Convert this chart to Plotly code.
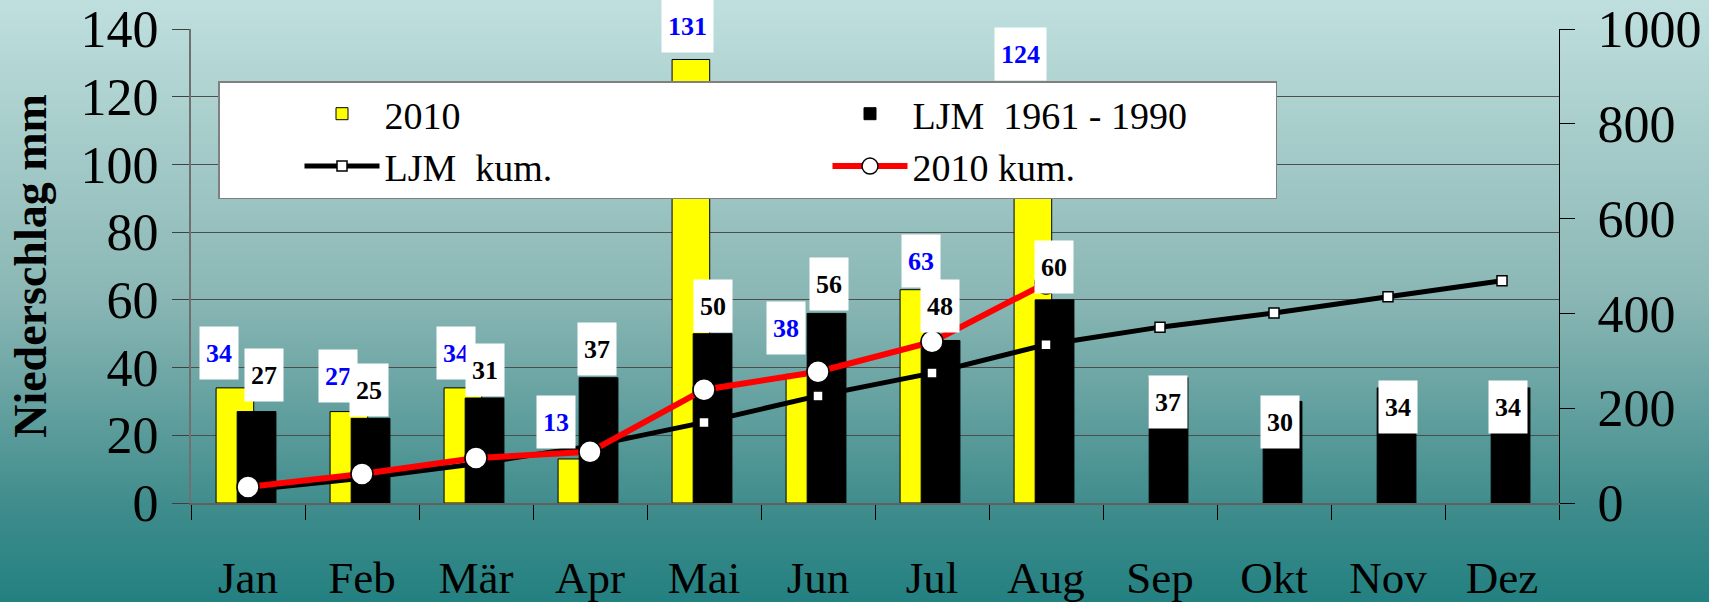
import base64
import struct
import zlib
import plotly.graph_objects as go

# ---------------- data ----------------
months = ["Jan", "Feb", "Mär", "Apr", "Mai", "Jun", "Jul", "Aug", "Sep", "Okt", "Nov", "Dez"]
rain_2010 = [34, 27, 34, 13, 131, 38, 63, 124]
rain_ljm = [27, 25, 31, 37, 50, 56, 48, 60, 37, 30, 34, 34]
cum_ljm = [27, 52, 83, 120, 170, 226, 274, 334, 371, 401, 435, 469]
cum_2010 = [34, 61, 95, 108, 239, 277, 340, 464]
left_ticks = [0, 20, 40, 60, 80, 100, 120, 140]
right_ticks = [0, 200, 400, 600, 800, 1000]

# label offsets in pixels (styling)
lab2010_dx = [-29, -24, -20, -34, -17, -32, -11, -26]
lab2010_dy = [35, 36, 35, 37, 33, 46, 29, 29]
labljm_dx = [16, 7, 9, 7, 9, 11, 8, 8, 8, 6, 10, 6]
labljm_dy = [37, 28, 28, 29, 28, 29, 34, 33, -24, -21, -19, -19]

FONT = "Liberation Serif"
W, H = 1709, 602
L, R, T, B = 191, 150, 29, 99
PW, PH = W - L - R, H - T - B


def gradient_png(stops, height, width=16):
    rows = []
    for yy in range(height):
        t = yy / (height - 1)
        c = stops[-1][1]
        for (t0, c0), (t1, c1) in zip(stops, stops[1:]):
            if t0 <= t <= t1:
                f = (t - t0) / (t1 - t0)
                c = [round(a + (b - a) * f) for a, b in zip(c0, c1)]
                break
        rows.append(b"\x00" + bytes(c) * width)
    raw = b"".join(rows)

    def chunk(tag, data):
        return (struct.pack(">I", len(data)) + tag + data
                + struct.pack(">I", zlib.crc32(tag + data) & 0xFFFFFFFF))

    png = (b"\x89PNG\r\n\x1a\n"
           + chunk(b"IHDR", struct.pack(">IIBBBBB", width, height, 8, 2, 0, 0, 0))
           + chunk(b"IDAT", zlib.compress(raw))
           + chunk(b"IEND", b""))
    return "data:image/png;base64," + base64.b64encode(png).decode()


EXT = 12  # extend gradient image beyond the page edges
bg_uri = gradient_png([(0.0, (193, 225, 223)), (0.5, (137, 182, 180)),
                       (0.83, (63, 140, 140)), (1.0, (32, 127, 127))], H + 2 * EXT)

fig = go.Figure()
fig.add_trace(go.Bar(
    x=months[:len(rain_2010)], y=rain_2010, name="2010",
    width=0.33, offset=-0.28,
    marker=dict(color="#FFFF00", line=dict(color="black", width=1)),
))
fig.add_trace(go.Bar(
    x=months, y=rain_ljm, name="LJM\u00a0 1961 - 1990",
    width=0.34, offset=-0.095,
    marker=dict(color="black", line=dict(color="black", width=1)),
))
fig.add_trace(go.Scatter(
    x=months, y=cum_ljm, name="LJM\u00a0 kum.", yaxis="y2", mode="lines+markers",
    line=dict(color="black", width=5),
    marker=dict(symbol="square", size=10, color="white", line=dict(color="black", width=1.5)),
))
fig.add_trace(go.Scatter(
    x=months[:len(cum_2010)], y=cum_2010, name="2010 kum.", yaxis="y2", mode="lines+markers",
    line=dict(color="#FF0000", width=6),
    marker=dict(symbol="circle", size=22, color="white", line=dict(color="black", width=1.5)),
))

annotations = []
for m, v, dx, dy in zip(months, rain_2010, lab2010_dx, lab2010_dy):
    annotations.append(dict(
        x=m, y=v, xref="x", yref="y", text=f"<b>{v}</b>", showarrow=False,
        xshift=dx, yshift=dy, bgcolor="white", borderpad=0,
        width=12 + 13 * len(str(v)), height=52,
        font=dict(family=FONT, size=26, color="#0000FF"),
    ))
for m, v, dx, dy in zip(months, rain_ljm, labljm_dx, labljm_dy):
    annotations.append(dict(
        x=m, y=v, xref="x", yref="y", text=f"<b>{v}</b>", showarrow=False,
        xshift=dx, yshift=dy, bgcolor="white", borderpad=0,
        width=12 + 13 * len(str(v)), height=52,
        font=dict(family=FONT, size=26, color="black"),
    ))

n = len(months)
fig.update_layout(
    width=W, height=H, autosize=False,
    margin=dict(l=L, r=R, t=T, b=B, pad=0, autoexpand=False),
    paper_bgcolor="#5a9e9c", plot_bgcolor="white",
    barmode="overlay", showlegend=True, hovermode=False,
    font=dict(family=FONT, color="black"),
    images=[dict(source=bg_uri, xref="paper", yref="paper",
                 x=-(L + EXT) / PW, y=1 + (T + EXT) / PH,
                 sizex=(W + 2 * EXT) / PW, sizey=(H + 2 * EXT) / PH,
                 xanchor="left", yanchor="top", sizing="stretch", layer="below")],
    xaxis=dict(
        type="category", categoryorder="array", categoryarray=months,
        range=[-0.5, n - 0.5], tickson="boundaries", automargin=False,
        ticks="outside", ticklen=15, tickwidth=1, tickcolor="black",
        showline=True, linecolor="#606060", linewidth=2,
        showgrid=False, zeroline=False,
        tickfont=dict(family=FONT, size=45, color="black"),
        ticklabelstandoff=34, ticklabeloverflow="allow",
    ),
    xaxis2=dict(
        overlaying="x", anchor="y", range=[-0.5, n - 0.5], automargin=False,
        tickvals=[i - 0.5 for i in range(n + 1)],
        ticks="inside", ticklen=15, tickwidth=1, tickcolor="black",
        showticklabels=False, showgrid=False, zeroline=False, showline=False,
    ),
    yaxis=dict(
        range=[0, 140], tickvals=left_ticks, automargin=False,
        ticks="outside", ticklen=17, tickwidth=1, tickcolor="#404040",
        showline=True, linecolor="#707070", linewidth=2,
        showgrid=True, gridcolor="#4d4d4d", gridwidth=1, zeroline=False,
        tickfont=dict(family=FONT, size=52, color="black"),
        ticklabelstandoff=3, ticklabeloverflow="allow",
        title=dict(text="Niederschlag mm", standoff=19,
                   font=dict(family=FONT, size=46, color="black", weight="bold")),
    ),
    yaxis2=dict(
        overlaying="y", side="right", anchor="x", range=[0, 1000], tickvals=right_ticks,
        automargin=False,
        ticks="outside", ticklen=15, tickwidth=1, tickcolor="black",
        showline=True, linecolor="black", linewidth=1,
        showgrid=False, zeroline=False,
        tickfont=dict(family=FONT, size=52, color="black"),
        ticklabelstandoff=12, ticklabeloverflow="allow",
    ),
    yaxis3=dict(
        overlaying="y", side="right", anchor="x", range=[0, 1000], tickvals=right_ticks,
        automargin=False,
        ticks="inside", ticklen=17, tickwidth=1, tickcolor="black",
        showticklabels=False, showgrid=False, zeroline=False, showline=False,
    ),
    legend=dict(
        orientation="h", x=(218 - L) / PW, xanchor="left",
        y=(PH + T - 81) / PH, yanchor="top",
        bgcolor="white", bordercolor="#808080", borderwidth=1.5,
        font=dict(family=FONT, size=38, color="black"),
        indentation=80, itemwidth=75, entrywidth=358, entrywidthmode="pixels",
        traceorder="normal",
    ),
    annotations=annotations,
)

fig.write_html(
    "out.html",
    config={"displayModeBar": False, "staticPlot": True},
    post_script="document.body.style.margin='0px';document.body.style.overflow='hidden';",
)
